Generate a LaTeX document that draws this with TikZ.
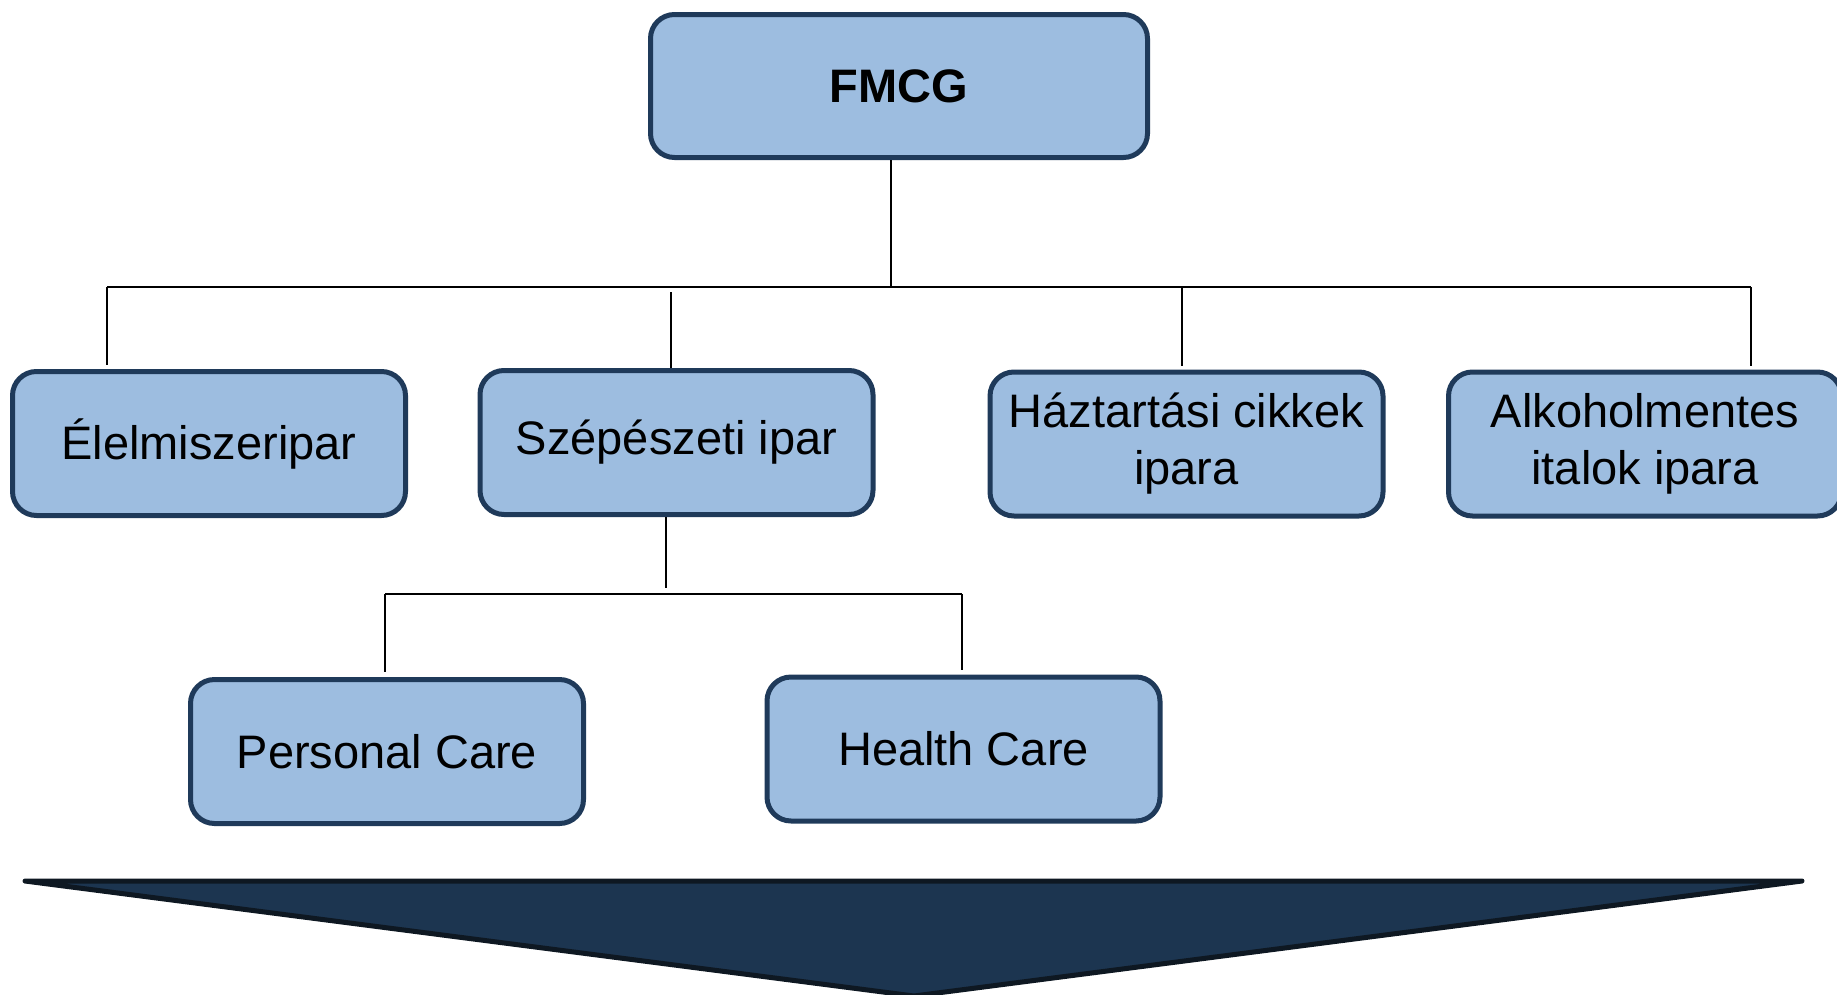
\documentclass[tikz,border=0pt]{standalone}
\usepackage{fontspec}
\setmainfont{Liberation Sans}
\definecolor{boxfill}{HTML}{9DBDE0}
\definecolor{boxline}{HTML}{1F3A5A}
\definecolor{arrowfill}{HTML}{1C3550}
\definecolor{arrowline}{HTML}{0E1822}
\begin{document}
\begin{tikzpicture}[x=1pt,y=-1pt,
  box/.style={draw=boxline, fill=boxfill, line width=5pt, rounded corners=24pt,
    minimum width=393pt, minimum height=144pt, inner sep=0pt, align=center,
    font=\fontsize{47pt}{57pt}\selectfont},
  conn/.style={draw=black, line width=2pt}]
\useasboundingbox (0,0) rectangle (1837,994);

% nodes
\node[box, minimum width=497pt, minimum height=143pt, font=\fontsize{47pt}{57pt}\selectfont\bfseries] (fmcg) at (899,86) {FMCG};
\node[box] (elel) at (209,443.5) {Élelmiszeripar};
\node[box] (szep) at (676.5,442.5) {Szépészeti ipar};
\node[box] (hazt) at (1186.5,444) {Háztartási cikkek\\ipara};
\node[box] (alko) at (1645,444) {Alkoholmentes\\italok ipara};
\node[box] (pers) at (387,751.5) {Personal Care};
\node[box] (heal) at (963.5,749) {Health Care};

% connector coordinates
\coordinate (hub) at (891,287);
\coordinate (busL) at (107,287);
\coordinate (busR) at (1751,287);
\coordinate (dSzep) at (671,292);
\coordinate (dHazt) at (1182,288);
\coordinate (sub) at (666,594);
\coordinate (subL) at (385,594);
\coordinate (subR) at (962,594);

% first level
\draw[conn] (hub |- fmcg.south) -- (hub);
\draw[conn] (busL) -- (busR);
\draw[conn] (busL) -- ([yshift=4pt]busL |- elel.north);
\draw[conn] (dSzep) -- (dSzep |- szep.north);
\draw[conn] (dHazt) -- ([yshift=4pt]dHazt |- hazt.north);
\draw[conn] (busR) -- ([yshift=4pt]busR |- alko.north);

% second level
\draw[conn] (sub |- szep.south) -- ([yshift=6pt]sub);
\draw[conn] (subL) -- (subR);
\draw[conn] (subL) -- ([yshift=5pt]subL |- pers.north);
\draw[conn] (subR) -- ([yshift=5pt]subR |- heal.north);

% big down arrow
\filldraw[fill=arrowfill, draw=arrowline, line width=5pt, line join=round, line cap=round]
  (25,881) -- (1802,881) -- (914,996) -- cycle;
\end{tikzpicture}
\end{document}
